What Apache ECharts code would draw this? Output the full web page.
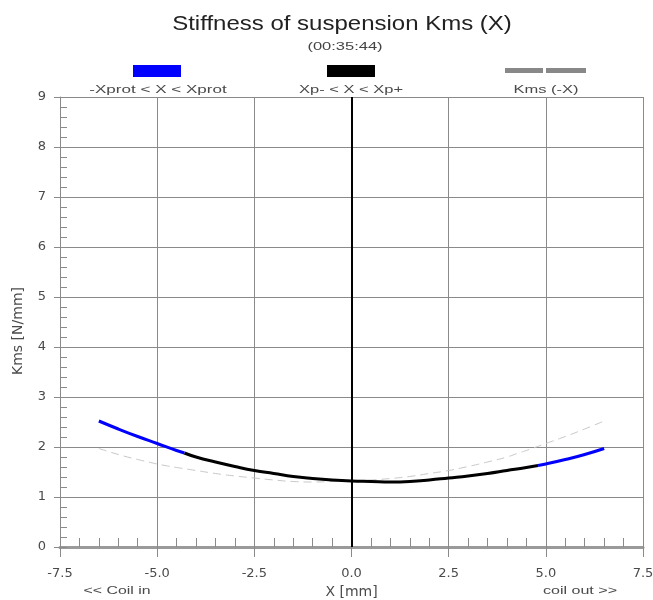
<!DOCTYPE html>
<html>
<head>
<meta charset="utf-8">
<script src="https://cdn.jsdelivr.net/npm/echarts@6/dist/echarts.min.js"></script>
<style>html,body{margin:0;padding:0;background:#fff}#c{width:653px;height:600px}</style>
</head>
<body>
<div id="c"></div>
<script>
// ---- data ----
var titleText = 'Stiffness of suspension Kms (X)';
var subTitleText = '(00:35:44)';
var seriesNames = ['-Xprot < X < Xprot', 'Xp- < X < Xp+', 'Kms (-X)'];
var xAxisName = 'X [mm]';
var yAxisName = 'Kms [N/mm]';
var leftNote = '<< Coil in';
var rightNote = 'coil out >>';
var xpMinus = -4.3;
var xpPlus = 4.8;
var X = [-6.5,-6,-5.5,-5,-4.5,-4.3,-4,-3.5,-3,-2.5,-2,-1.5,-1,-0.5,0,0.5,1,1.5,2,2.5,3,3.5,4,4.5,4.8,5,5.5,6,6.5];
var K = [2.52,2.36,2.21,2.07,1.93,1.88,1.80,1.70,1.61,1.53,1.47,1.41,1.37,1.34,1.32,1.31,1.30,1.31,1.34,1.38,1.42,1.47,1.53,1.59,1.63,1.66,1.75,1.85,1.97];
var xTicks = [-7.5,-5.0,-2.5,0.0,2.5,5.0,7.5];
var yTicks = [0,1,2,3,4,5,6,7,8,9];

// ---- build ----
var pts = X.map(function(x,i){return [x,K[i]];});
var blueLeft = pts.filter(function(p){return p[0] <= xpMinus;});
var blackMid = pts.filter(function(p){return p[0] >= xpMinus && p[0] <= xpPlus;});
var blueRight = pts.filter(function(p){return p[0] >= xpPlus;});
var mirror = pts.map(function(p){return [-p[0], p[1]];}).reverse();

var FONT = 'Liberation Sans, Arial, sans-serif';
var AXFONT = 'DejaVu Sans, sans-serif';
var gridCol = '#8a8a8a';
var txtCol = '#4a4a4a';

function wideText(str, x, y, size, sx, fill){
  return {type:'text', x:x, y:y, scaleX:sx, scaleY:1, silent:true,
    style:{text:str, x:0, y:0, textAlign:'center', textVerticalAlign:'middle',
      font:size+'px '+FONT, fill:fill||txtCol}};
}

var chart = echarts.init(document.getElementById('c'), null, {renderer:'canvas'});
var xBase = {type:'value', min:xTicks[0], max:xTicks[xTicks.length-1], interval:2.5, gridIndex:0};
var yBase = {type:'value', min:yTicks[0], max:yTicks[yTicks.length-1], interval:1, gridIndex:0};
chart.setOption({
  animation:false,
  backgroundColor:'#fff',
  textStyle:{fontFamily:FONT},
  grid:{left:60, right:10, top:97, bottom:53, containLabel:false, outerBoundsMode:'none'},
  xAxis:[
    Object.assign({}, xBase, {
      position:'bottom',
      name:xAxisName, nameLocation:'middle', nameGap:37,
      nameTextStyle:{color:txtCol, fontSize:14, fontFamily:AXFONT},
      axisLine:{show:true, onZero:false, lineStyle:{color:'#9a9a9a', width:3}},
      axisTick:{show:true, inside:false, length:10, lineStyle:{color:gridCol}},
      axisLabel:{color:txtCol, fontSize:13, fontFamily:AXFONT, margin:20,
        formatter:function(v){return v.toFixed(1);}},
      splitLine:{show:true, lineStyle:{color:gridCol, width:1}}
    }),
    Object.assign({}, xBase, {
      position:'bottom',
      axisLine:{show:false, onZero:false},
      axisLabel:{show:false},
      axisTick:{show:true, inside:true, length:9, lineStyle:{color:gridCol}},
      minorTick:{show:true, splitNumber:5, length:9, lineStyle:{color:gridCol}},
      splitLine:{show:false}
    })
  ],
  yAxis:[
    Object.assign({}, yBase, {
      position:'left',
      name:yAxisName, nameLocation:'middle', nameGap:35,
      nameTextStyle:{color:txtCol, fontSize:14, fontFamily:AXFONT, padding:[0,18,0,0]},
      axisLine:{show:true, onZero:false, lineStyle:{color:gridCol, width:1}},
      axisTick:{show:true, inside:false, length:6, lineStyle:{color:gridCol}},
      axisLabel:{color:txtCol, fontSize:13, fontFamily:AXFONT, margin:14},
      splitLine:{show:true, lineStyle:{color:gridCol, width:1}}
    }),
    Object.assign({}, yBase, {
      position:'left',
      axisLine:{show:false, onZero:false},
      axisLabel:{show:false},
      axisTick:{show:true, inside:true, length:7, lineStyle:{color:gridCol}},
      minorTick:{show:true, splitNumber:5, length:7, lineStyle:{color:gridCol}},
      splitLine:{show:false}
    })
  ],
  legend:[
    {data:[seriesNames[0]], left:133, top:65, itemWidth:48, itemHeight:12, icon:'rect',
     selectedMode:false, formatter:function(){return '';}, padding:0, itemGap:0},
    {data:[seriesNames[1]], left:327, top:65, itemWidth:48, itemHeight:12, icon:'rect',
     selectedMode:false, formatter:function(){return '';}, padding:0, itemGap:0},
    {data:[{name:seriesNames[2], icon:'path://M0,0H38V5H0Z M41,0H81V5H41Z', itemStyle:{color:'#888'}}],
     left:505, top:68, itemWidth:81, itemHeight:5,
     selectedMode:false, formatter:function(){return '';}, padding:0, itemGap:0}
  ],
  graphic:[
    wideText(titleText, 342, 24, 20, 1.2, '#222'),
    wideText(subTitleText, 345, 47, 11, 1.5, '#444'),
    wideText(seriesNames[0], 158, 90, 11, 1.55),
    wideText(seriesNames[1], 351, 90, 11, 1.5),
    wideText(seriesNames[2], 546, 90, 11, 1.5),
    wideText(leftNote, 117, 591, 11, 1.44),
    wideText(rightNote, 580, 591, 11, 1.46)
  ],
  series:[
    {name:seriesNames[2], type:'line', data:mirror, smooth:true, showSymbol:false, z:2,
     lineStyle:{color:'#c8c8c8', width:1, type:[8,5]}, itemStyle:{color:'#c8c8c8'}},
    {name:seriesNames[1], type:'line', data:blackMid, smooth:true, showSymbol:false, z:4,
     lineStyle:{color:'#000', width:3}, itemStyle:{color:'#000'},
     markLine:{silent:true, symbol:'none', label:{show:false},
       lineStyle:{color:'#000', width:2, type:'solid'}, data:[{xAxis:0}]}},
    {name:seriesNames[0], type:'line', data:blueLeft, smooth:true, showSymbol:false, z:4,
     lineStyle:{color:'#0000ff', width:3}, itemStyle:{color:'#0000ff'}},
    {name:seriesNames[0], type:'line', data:blueRight, smooth:true, showSymbol:false, z:4,
     lineStyle:{color:'#0000ff', width:3}, itemStyle:{color:'#0000ff'}}
  ]
});
</script>
</body>
</html>
